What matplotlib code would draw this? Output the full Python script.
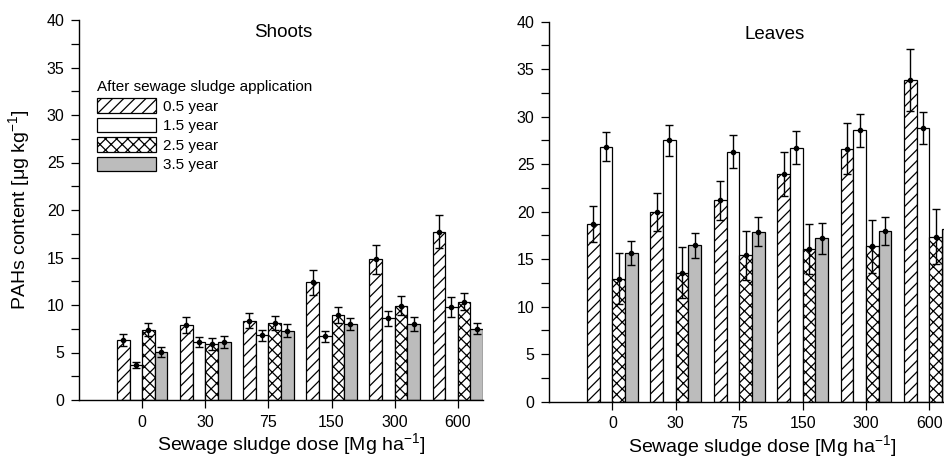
import matplotlib
matplotlib.use("Agg")
import matplotlib.pyplot as plt
import numpy as np

plt.rcParams['font.family'] = ['Liberation Sans', 'DejaVu Sans']
plt.rcParams['mathtext.default'] = 'regular'
plt.rcParams['hatch.linewidth'] = 0.9

doses = ["0", "30", "75", "150", "300", "600"]
series = ["0.5 year", "1.5 year", "2.5 year", "3.5 year"]

shoots_05 = [6.3, 7.9, 8.35, 12.4, 14.8, 17.7]
shoots_15 = [3.65, 6.1, 6.8, 6.7, 8.6, 9.75]
shoots_25 = [7.4, 5.9, 8.1, 8.95, 9.9, 10.35]
shoots_35 = [5.05, 6.1, 7.3, 8.0, 8.0, 7.5]
shoots_05_err = [0.6, 0.85, 0.8, 1.3, 1.5, 1.75]
shoots_15_err = [0.3, 0.55, 0.6, 0.6, 0.8, 1.05]
shoots_25_err = [0.7, 0.6, 0.75, 0.8, 1.0, 0.9]
shoots_35_err = [0.5, 0.6, 0.65, 0.65, 0.75, 0.6]

leaves_05 = [18.7, 20.0, 21.2, 23.95, 26.65, 33.85]
leaves_15 = [26.85, 27.5, 26.3, 26.75, 28.55, 28.8]
leaves_25 = [12.95, 13.6, 15.4, 16.05, 16.35, 17.35]
leaves_35 = [15.65, 16.45, 17.9, 17.2, 17.95, 18.2]
leaves_05_err = [1.9, 2.0, 2.05, 2.3, 2.65, 3.25]
leaves_15_err = [1.55, 1.65, 1.75, 1.75, 1.75, 1.7]
leaves_25_err = [2.7, 2.7, 2.6, 2.65, 2.8, 2.9]
leaves_35_err = [1.3, 1.35, 1.55, 1.65, 1.5, 2.0]

styles = [
    dict(facecolor='white', hatch='///'),
    dict(facecolor='white', hatch=None),
    dict(facecolor='white', hatch='xxx'),
    dict(facecolor='#bcbcbc', hatch=None),
]

fig = plt.figure(figsize=(9.44, 4.59), dpi=100)
W, H = 944, 459

def make_axes(x0, x1, y0, y1):
    return fig.add_axes([x0 / W, 1 - y1 / H, (x1 - x0) / W, (y1 - y0) / H])

axL = make_axes(79, 483, 20, 400)
axR = make_axes(549, 944, 21.7, 401.7)

def draw(ax, vals, errs, xmax, title, title_x, label_x):
    x = np.arange(len(doses))
    w = 0.2
    handles = []
    for k, (v, e, st) in enumerate(zip(vals, errs, styles)):
        pos = x + (k - 1.5) * w
        b = ax.bar(pos, v, width=w, color=st['facecolor'], hatch=st['hatch'],
                   edgecolor='black', linewidth=0.9, zorder=2, label=series[k])
        handles.append(b)
        ax.errorbar(pos, v, yerr=e, fmt='o', color='black', markersize=3,
                    elinewidth=1.0, capsize=3, capthick=1.0, zorder=3)
    ax.set_xlim(-1, xmax)
    ax.set_ylim(0, 40)
    ax.set_xticks(x)
    ax.set_xticklabels(doses)
    ax.set_yticks(np.arange(0, 41, 5))
    ax.set_yticks(np.arange(0, 40.1, 2.5), minor=True)
    ax.tick_params(axis='both', which='both', direction='out', length=5.5, width=0.9,
                   labelsize=11.5)
    ax.tick_params(axis='y', pad=5)
    ax.tick_params(axis='x', pad=5)
    for s in ['top', 'right']:
        ax.spines[s].set_visible(False)
    for s in ['left', 'bottom']:
        ax.spines[s].set_linewidth(1.0)
    ax.set_xlabel('Sewage sludge dose [Mg ha$^{-1}$]', fontsize=14)
    ax.xaxis.set_label_coords(label_x, -0.082)
    ax.text(title_x, 0.967, title, transform=ax.transAxes, ha='center', va='center',
            fontsize=13.5)
    return handles

hL = draw(axL, [shoots_05, shoots_15, shoots_25, shoots_35],
          [shoots_05_err, shoots_15_err, shoots_25_err, shoots_35_err],
          5.4, 'Shoots', 0.505, 0.525)
draw(axR, [leaves_05, leaves_15, leaves_25, leaves_35],
     [leaves_05_err, leaves_15_err, leaves_25_err, leaves_35_err],
     5.23, 'Leaves', 0.572, 0.539)

axL.set_ylabel('PAHs content [μg kg$^{-1}$]', fontsize=14)
axL.yaxis.set_label_coords(-0.117, 0.5)

leg = axL.legend(handles=hL, labels=series, title='After sewage sludge application',
                 loc='upper left', bbox_to_anchor=(0.045, 0.842), frameon=False,
                 fontsize=11, title_fontsize=11, alignment='left',
                 handlelength=3.85, handleheight=1.1, labelspacing=0.26,
                 handletextpad=0.45, borderpad=0, borderaxespad=0)

fig.savefig('out.png', dpi=100)
